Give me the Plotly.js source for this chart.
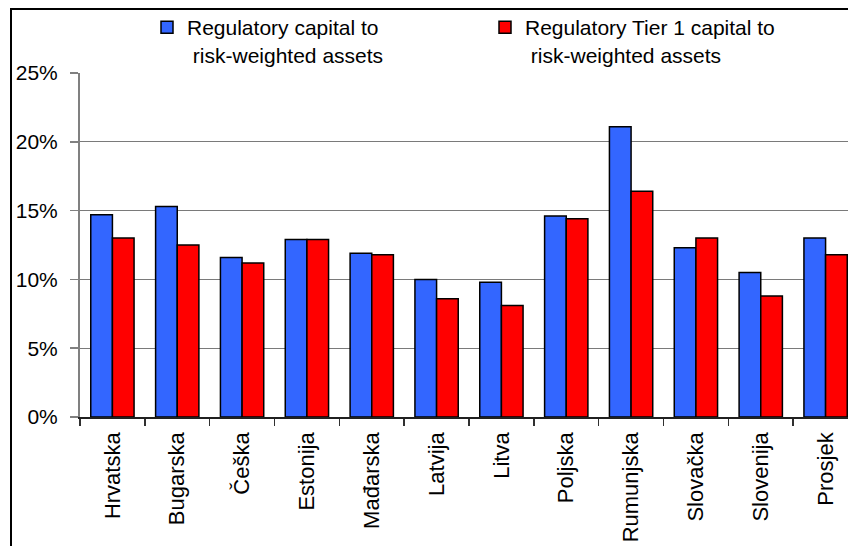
<!DOCTYPE html>
<html>
<head>
<meta charset="utf-8">
<script src="https://cdn.plot.ly/plotly-3.0.1.min.js"></script>
<style>
  html, body { margin: 0; padding: 0; background: #ffffff; overflow: hidden; }
  #chart { width: 880px; height: 560px; }
</style>
</head>
<body>
<div id="chart"></div>
<script>
// Capital adequacy ratios by country (%)
const categories = ['Hrvatska', 'Bugarska', 'Češka', 'Estonija', 'Mađarska', 'Latvija',
                    'Litva', 'Poljska', 'Rumunjska', 'Slovačka', 'Slovenija', 'Prosjek'];
const capitalRatio = [14.7, 15.3, 11.6, 12.9, 11.9, 10.0, 9.8, 14.6, 21.1, 12.3, 10.5, 13.0];
const tier1Ratio   = [13.0, 12.5, 11.2, 12.9, 11.8, 8.6, 8.1, 14.4, 16.4, 13.0, 8.8, 11.8];
const seriesNames = [
  'Regulatory capital to<br>\u00a0risk-weighted assets',
  'Regulatory Tier 1 capital to<br>\u00a0risk-weighted assets'
];
const yTicks = [0, 5, 10, 15, 20, 25];

// Figure geometry (pixels)
const W = 880, H = 560;
const M = { l: 80, r: 22, t: 73, b: 143, autoexpand: false };
const plotW = W - M.l - M.r;
const plotH = H - M.t - M.b;
const px2x = p => (p - M.l) / plotW;
const py2y = p => 1 - (p - M.t) / plotH;

const font = { family: 'Liberation Sans, Arial, sans-serif', size: 21, color: '#000000' };

const traces = [
  {
    type: 'bar', x: categories, y: capitalRatio, name: seriesNames[0],
    marker: { color: '#3366FF', line: { color: '#000000', width: 1.5 } },
    legend: 'legend', hoverinfo: 'skip'
  },
  {
    type: 'bar', x: categories, y: tier1Ratio, name: seriesNames[1],
    marker: { color: '#FF0000', line: { color: '#000000', width: 1.5 } },
    legend: 'legend2', hoverinfo: 'skip'
  }
];

const legendBase = {
  orientation: 'v', xanchor: 'left', yanchor: 'top',
  bgcolor: 'rgba(0,0,0,0)', borderwidth: 0, valign: 'top',
  font: font, itemclick: false, itemdoubleclick: false
};

const layout = {
  width: W, height: H,
  margin: M,
  paper_bgcolor: '#ffffff', plot_bgcolor: '#ffffff',
  font: font,
  barmode: 'group', bargap: 0.332, bargroupgap: 0,
  showlegend: true,
  legend: Object.assign({}, legendBase, { x: px2x(147), y: py2y(7) }),
  legend2: Object.assign({}, legendBase, { x: px2x(485), y: py2y(7) }),
  xaxis: {
    type: 'category',
    tickangle: -90,
    tickfont: { family: font.family, size: 22, color: '#000000' },
    ticks: 'outside', tickson: 'boundaries', ticklen: 7, tickwidth: 1.5, tickcolor: '#303030',
    ticklabelstandoff: 5,
    showline: true, linecolor: '#202020', linewidth: 1.5,
    showgrid: false, zeroline: false, fixedrange: true
  },
  yaxis: {
    range: [0, 25],
    tickmode: 'array', tickvals: yTicks, ticktext: yTicks.map(v => v + '%'),
    tickfont: font,
    ticks: 'outside', ticklen: 8, tickwidth: 1.5, tickcolor: '#808080',
    ticklabelstandoff: 8,
    showline: true, linecolor: '#808080', linewidth: 2,
    showgrid: true, gridcolor: '#7a7a7a', gridwidth: 1.2,
    zeroline: false, fixedrange: true
  },
  shapes: [
    {
      type: 'rect', xref: 'paper', yref: 'paper', layer: 'above',
      x0: px2x(11), x1: px2x(W + 20), y0: py2y(H + 20), y1: py2y(9),
      line: { color: '#000000', width: 2 }, fillcolor: 'rgba(0,0,0,0)'
    }
  ]
};

Plotly.newPlot('chart', traces, layout, { displayModeBar: false, staticPlot: true });
</script>
</body>
</html>
